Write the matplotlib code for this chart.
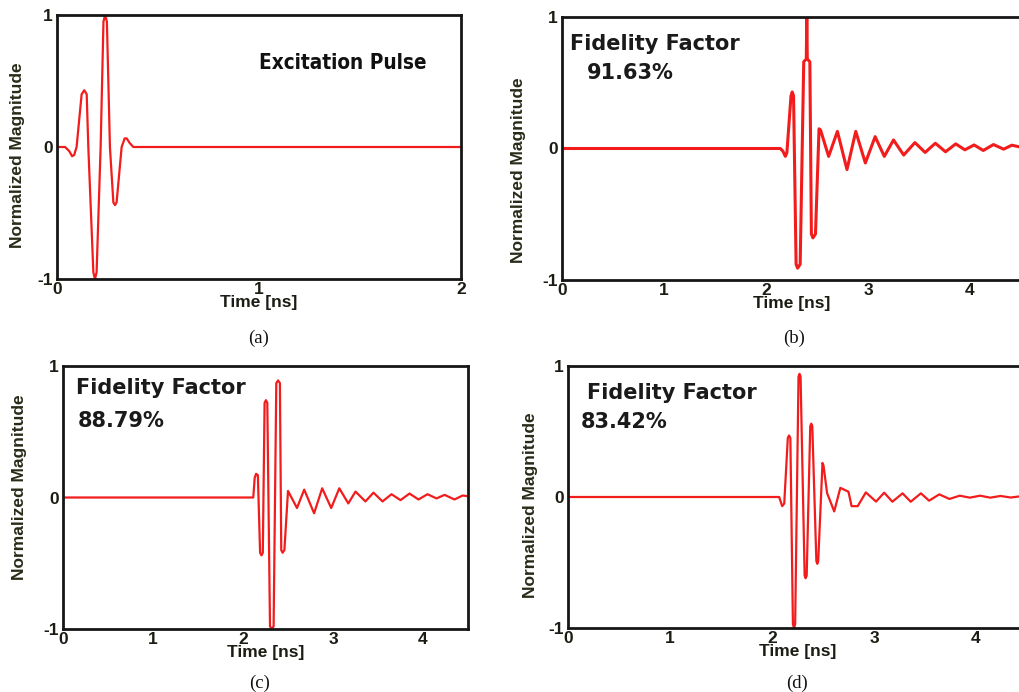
import matplotlib
matplotlib.use('Agg')
import matplotlib.pyplot as plt
from matplotlib import font_manager

# Waveform values (time in ns, normalized magnitude)
pulse_t = [0, 0.04, 0.06, 0.075, 0.085, 0.097, 0.122, 0.135, 0.147, 0.155, 0.18, 0.188, 0.196,
           0.216, 0.230, 0.238, 0.247, 0.262, 0.279, 0.287, 0.295, 0.32, 0.335, 0.345, 0.36, 0.378, 2.0]
pulse_v = [0, 0, -0.03, -0.07, -0.06, 0.0, 0.40, 0.43, 0.40, 0.0, -0.95, -1.0, -0.95,
           0.0, 0.95, 1.0, 0.95, 0.0, -0.42, -0.44, -0.42, 0.0, 0.065, 0.065, 0.03, 0, 0]

rx_b_t = [0, 2.14, 2.165, 2.19, 2.205, 2.245, 2.257, 2.27, 2.295, 2.31, 2.335, 2.37, 2.395, 2.40,
          2.405, 2.43, 2.445, 2.46, 2.485, 2.52, 2.535, 2.614, 2.70, 2.794, 2.88, 2.974, 3.07, 3.16,
          3.25, 3.35, 3.46, 3.56, 3.66, 3.76, 3.86, 3.95, 4.04, 4.13, 4.23, 4.33, 4.41, 4.5]
rx_b_v = [0, 0, -0.02, -0.06, -0.03, 0.40, 0.43, 0.40, -0.88, -0.91, -0.88, 0.66, 0.68, 1.0,
          0.68, 0.66, -0.65, -0.68, -0.65, 0.15, 0.14, -0.06, 0.13, -0.16, 0.13, -0.11, 0.09, -0.06,
          0.065, -0.05, 0.045, -0.03, 0.04, -0.025, 0.035, -0.01, 0.027, -0.015, 0.03, -0.005, 0.025, 0.01]

rx_c_t = [0, 2.114, 2.13, 2.145, 2.165, 2.19, 2.205, 2.22, 2.24, 2.255, 2.27, 2.30, 2.32, 2.34,
          2.37, 2.39, 2.41, 2.425, 2.44, 2.46, 2.50, 2.60, 2.68, 2.79, 2.88, 2.98, 3.07, 3.17, 3.25,
          3.36, 3.45, 3.55, 3.65, 3.75, 3.85, 3.95, 4.05, 4.15, 4.24, 4.35, 4.44, 4.5]
rx_c_v = [0, 0, 0.15, 0.18, 0.17, -0.42, -0.44, -0.42, 0.72, 0.74, 0.72, -0.98, -1.0, -0.98,
          0.87, 0.89, 0.87, -0.40, -0.42, -0.40, 0.05, -0.08, 0.06, -0.12, 0.07, -0.08, 0.07, -0.045, 0.045,
          -0.03, 0.037, -0.03, 0.025, -0.02, 0.03, -0.015, 0.025, -0.007, 0.02, -0.015, 0.015, 0.01]

rx_d_t = [0, 2.07, 2.10, 2.12, 2.155, 2.167, 2.18, 2.205, 2.216, 2.227, 2.26, 2.27, 2.28, 2.32,
          2.33, 2.34, 2.375, 2.385, 2.395, 2.435, 2.444, 2.453, 2.495, 2.505, 2.54, 2.61, 2.67, 2.75,
          2.78, 2.84, 2.92, 3.02, 3.10, 3.18, 3.28, 3.36, 3.46, 3.54, 3.64, 3.74, 3.84, 3.94, 4.04,
          4.14, 4.24, 4.34, 4.44, 4.5]
rx_d_v = [0, 0, -0.07, -0.05, 0.45, 0.47, 0.45, -0.97, -1.0, -0.97, 0.92, 0.94, 0.92, -0.60,
          -0.62, -0.60, 0.54, 0.56, 0.54, -0.49, -0.51, -0.49, 0.26, 0.24, 0.03, -0.11, 0.07, 0.04,
          -0.07, -0.07, 0.035, -0.035, 0.033, -0.036, 0.028, -0.036, 0.028, -0.028, 0.02, -0.015, 0.01,
          -0.005, 0.01, -0.005, 0.008, -0.004, 0.006, 0.0]

fidelity = ['91.63%', '88.79%', '83.42%']
captions = ['(a)', '(b)', '(c)', '(d)']

W, H = 1019, 692
RED = '#f21c1c'
DARK = '#1c1c14'


def box(left, top, right, bottom):
    # pixel box -> figure fraction rect
    return [left / W, 1 - bottom / H, (right - left) / W, (bottom - top) / H]


def fpos(x, y):
    return x / W, 1 - y / H


def narrow_bold_font():
    # look for an installed condensed / narrow bold face for the pulse title
    best = None
    for f in font_manager.fontManager.ttflist:
        name = f.name + ' ' + str(f.stretch)
        narrow = ('Narrow' in name or 'Condensed' in name or 'condensed' in name)
        bold = f.weight in ('bold', 700, 'semibold', 600, 800, 'heavy')
        if narrow and bold:
            if best is None or 'Liberation' in f.name:
                best = f
    if best is None:
        return font_manager.FontProperties(family='Liberation Sans', weight='bold')
    return font_manager.FontProperties(fname=best.fname)


def style(ax, xmax, xticks):
    ax.set_xlim(0, xmax)
    ax.set_ylim(-1, 1)
    ax.set_xticks(xticks)
    ax.set_yticks([-1, 0, 1])
    ax.set_yticklabels(['-1', '0', '1'])
    for lab in ax.get_xticklabels() + ax.get_yticklabels():
        lab.set_fontfamily('Liberation Sans')
        lab.set_fontweight('bold')
        lab.set_fontsize(12.5)
        lab.set_color(DARK)
    ax.tick_params(length=0, pad=2)
    ax.tick_params(axis='y', pad=3)
    for s in ax.spines.values():
        s.set_linewidth(2.0)
        s.set_color('#161616')
    ax.set_xlabel('Time [ns]', fontfamily='Liberation Sans', fontweight='bold',
                  fontsize=12.5, color=DARK, labelpad=-1)


fig = plt.figure(figsize=(W / 100, H / 100), dpi=100)

# (a) excitation pulse
ax_a = fig.add_axes(box(57, 15, 461, 279))
ax_a.plot(pulse_t, pulse_v, color=RED, lw=1.6)
style(ax_a, 2, [0, 1, 2])
title_fp = narrow_bold_font()
title_fp.set_size(18)
title = fig.text(*fpos(343, 63), 'Excitation Pulse', ha='center', va='center',
                 fontproperties=title_fp, color='#111111')
# size the title so it spans about the same width as in the original
renderer = fig.canvas.get_renderer()
tw = title.get_window_extent(renderer).width
title_fp.set_size(min(21, 18 * 168 / tw))
title.set_fontproperties(title_fp)

# (b) received pulse
ax_b = fig.add_axes(box(562, 17, 562 + 102 * 4.5, 280))
ax_b.plot(rx_b_t, rx_b_v, color=RED, lw=2.2)
style(ax_b, 4.5, [0, 1, 2, 3, 4])
ax_b.spines['right'].set_visible(False)

# (c)
ax_c = fig.add_axes(box(63, 366, 468, 629))
ax_c.plot(rx_c_t, rx_c_v, color=RED, lw=1.6)
style(ax_c, 4.5, [0, 1, 2, 3, 4])

# (d)
ax_d = fig.add_axes(box(568, 366, 568 + 102 * 4.5, 628))
ax_d.plot(rx_d_t, rx_d_v, color=RED, lw=1.6)
style(ax_d, 4.5, [0, 1, 2, 3, 4])
ax_d.spines['right'].set_visible(False)

# y labels placed by hand so they sit like the original
for (x, y) in [(18, 155), (519, 170), (20, 487), (530, 505)]:
    fig.text(*fpos(x, y), 'Normalized Magnitude', rotation=90, ha='center', va='center',
             fontfamily='Liberation Sans', fontweight='bold', fontsize=12.5, color='#2a2a18')

# fidelity annotations
ff_kw = dict(fontfamily='DejaVu Sans', fontweight='bold', fontsize=15, color='#1a1a1a',
             ha='left', va='center')
fig.text(*fpos(570, 44), 'Fidelity Factor', **ff_kw)
fig.text(*fpos(587, 73), fidelity[0], **ff_kw)
fig.text(*fpos(76, 388), 'Fidelity Factor', **ff_kw)
fig.text(*fpos(78, 421), fidelity[1], **ff_kw)
fig.text(*fpos(587, 393), 'Fidelity Factor', **ff_kw)
fig.text(*fpos(581, 422), fidelity[2], **ff_kw)

# sub-figure captions
for cap, (x, y) in zip(captions, [(259, 338), (794, 338), (260, 683), (797, 683)]):
    fig.text(*fpos(x, y), cap, ha='center', va='center', fontfamily='Liberation Serif',
             fontsize=13.5, color='#111111')

fig.savefig('out.png', dpi=100)
plt.close(fig)
